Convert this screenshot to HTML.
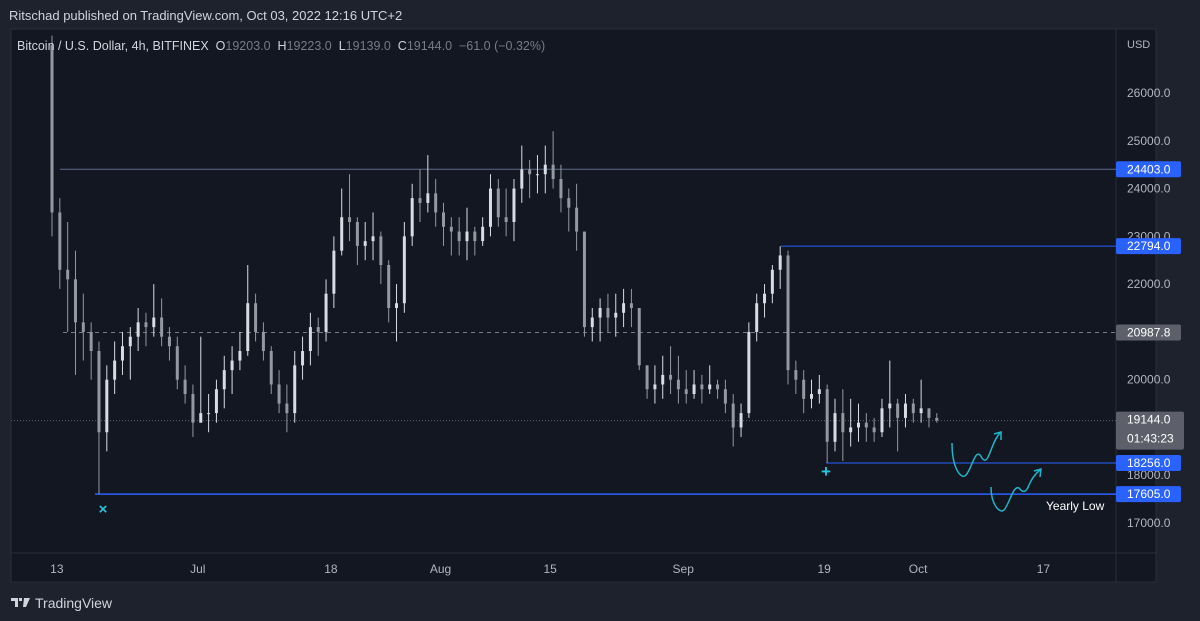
<!DOCTYPE html>
<html><head><meta charset="utf-8"><style>
html,body{margin:0;padding:0;background:#1e222d;width:1200px;height:621px;overflow:hidden;font-family:"Liberation Sans",sans-serif}
svg{display:block}
</style></head><body>
<svg id="chart" width="1200" height="621" xmlns="http://www.w3.org/2000/svg">
<rect x="0" y="0" width="1200" height="621" fill="#1e222d"/>
<text x="9" y="20" fill="#d1d4dc" font-size="13">Ritschad published on TradingView.com, Oct 03, 2022 12:16 UTC+2</text>
<rect x="11" y="29" width="1145" height="553" fill="#131722" stroke="#2a2e39"/>
<line x1="1116" y1="29" x2="1116" y2="582" stroke="#2a2e39"/>
<line x1="11" y1="553" x2="1156" y2="553" stroke="#2a2e39"/>
<g id="levels"></g>
<g id="candles"></g>
<g id="labels"></g>
<text x="17" y="50" fill="#d1d4dc" font-size="12.5" xml:space="preserve">Bitcoin / U.S. Dollar, 4h, BITFINEX  O<tspan fill="#787b86">19203.0</tspan>  H<tspan fill="#787b86">19223.0</tspan>  L<tspan fill="#787b86">19139.0</tspan>  C<tspan fill="#787b86">19144.0  −61.0 (−0.32%)</tspan></text>
<text x="1127" y="48" fill="#b2b5be" font-size="11">USD</text>
<g fill="none" stroke="#1fb4c8" stroke-width="1.5">
<path d="M952,443 C952,470 962,480 966,475 C972,468 975,450 980,455 C984,462 986,462 989,455 C992,448 995,438 1000,433 M994,434 L1001,432 L1001,440"/>
<path d="M991,487 C991,505 1000,514 1004,510 C1010,503 1013,485 1019,488 C1023,493 1026,493 1029,485 C1032,478 1035,474 1040,470 M1034,471 L1041,469 L1040,477"/>
</g>
<text x="103" y="514" fill="#26c6da" font-size="15" font-weight="bold" text-anchor="middle">×</text>
<text x="826" y="477" fill="#26c6da" font-size="17" font-weight="bold" text-anchor="middle">+</text>
<text x="1046" y="510" fill="#ffffff" font-size="12">Yearly Low</text>
<g fill="#d1d4dc">
<path d="M11,598 h7 v9 h-3 v-6 h-4z M19,598 h3 v3 h-3z M24,598 h6 l-4,9 h-3z"/>
<text x="35" y="608" font-size="14">TradingView</text>
</g>
</svg>
<script>
const dayLabels=["Jun 12"];
const highs=[27200,23800,23300,22700,21800,21200,20800,20300,20800,21000,21100,21500,21400,22000,21700,21100,20900,20300,19900,20900,19700,20000,20500,20700,21000,22400,21800,21200,20700,20200,19900,20600,20900,21400,21300,22100,23000,24000,24300,23400,23300,23500,23100,22500,22000,23300,24100,24400,24700,24200,23700,23400,23400,23600,23200,23400,24300,24200,24000,24200,24900,24600,24700,24900,25200,24500,24000,24100,22800,21500,21700,21800,21800,21900,21900,21500,20300,20300,20500,20700,20500,20200,20200,20100,20300,20000,20000,19700,19500,21200,21800,22000,22400,22794,22700,20400,20200,20000,20100,19900,19600,19800,19600,19500,19300,19200,19600,20400,19600,19700,19600,20000,19400,19300];
const lows=[23000,21900,21000,20100,20400,20000,17605,18500,19700,20100,20000,20600,20700,20900,20700,20400,19800,19500,18800,19100,18900,19100,19400,19700,20200,20500,20800,20400,19700,19300,18900,19100,20000,20300,20500,20800,21500,22600,22900,22400,22500,22500,22000,21200,20800,21400,22800,23300,23500,23200,22800,22600,22600,22500,22600,22800,23000,23200,23000,22900,23700,23800,23900,23900,24000,23500,23100,22700,20900,20800,20800,21000,20900,21100,21100,20200,19600,19500,19600,19700,19500,19500,19600,19500,19700,19600,19300,18600,18800,19200,20800,21300,21600,21900,19900,19700,19300,19400,19500,18256,18500,18300,18600,18700,18700,18700,18800,19000,18500,19000,19100,19100,19000,19100];
const closes=[23500,22300,22100,21200,21000,20600,18900,20000,20400,20700,20900,21200,21100,21300,20900,20700,20000,19700,19100,19300,19300,19800,20200,20400,20600,21600,21000,20600,19900,19500,19300,20300,20600,21100,21000,21800,22700,23400,23300,22800,22900,23000,22400,21500,21600,23000,23800,23700,23900,23500,23200,23100,22900,23100,22900,23200,24000,23400,23300,24000,24400,24300,24300,24500,24200,23800,23600,23100,21100,21300,21500,21300,21400,21600,21500,20300,19800,19900,20100,20000,19800,19700,19900,19800,19900,19800,19500,19000,19300,21000,21600,21800,22300,22600,20200,20000,19600,19700,19800,18700,19300,18900,19000,19100,19000,18900,19400,19500,19200,19500,19300,19400,19200,19144];
const priceTicks=[26000,25000,24000,23000,22000,20000,18000,17000];
const timeTicks=["13","Jul","18","Aug","15","Sep","19","Oct","17"];
const timeTickDays=[1,19,36,50,64,81,99,111,127];
const levelPrices=[24403,22794,20987.8,19144,18256,17605];
const NS="http://www.w3.org/2000/svg";
function yScale(p){return 93+(26000-p)*0.04778;}
function xScale(i){return 52+i*7.83;}
function mk(tag,attrs,parent){const e=document.createElementNS(NS,tag);for(const k in attrs)e.setAttribute(k,attrs[k]);parent.appendChild(e);return e;}
const cg=document.getElementById('candles');
for(let i=0;i<closes.length;i++){
  const o=i?closes[i-1]:highs[0]-200, c=closes[i], x=xScale(i);
  const col=c>=o?'#d8dbe3':'#9598a1';
  const w=mk('line',{x1:x,x2:x,y1:yScale(highs[i]),y2:yScale(lows[i]),stroke:col,'stroke-width':1},cg);
  
  
  const yt=yScale(Math.max(o,c)), yb=yScale(Math.min(o,c));
  const b=mk('rect',{x:x-1.5,y:yt,width:3,height:Math.max(1,yb-yt),fill:col},cg);
  
  
}
const lg=document.getElementById('levels');
const lvStyle=[{x1:60,stroke:'#5d6a8a',w:1,d:''},{x1:781,stroke:'#2962ff',w:1,d:''},{x1:63,stroke:'#787b86',w:1,d:'4 4'},{x1:11,stroke:'#5d606b',w:1,d:'1 2'},{x1:826,stroke:'#2962ff',w:1,d:''},{x1:95,stroke:'#2962ff',w:1.5,d:''}];
levelPrices.forEach((p,k)=>{
  const s=lvStyle[k];const y=yScale(p);
  const l=mk('line',{x1:s.x1,x2:1116,y1:y,y2:y,stroke:s.stroke,'stroke-width':s.w,'stroke-dasharray':s.d},lg);
  
  
});
const lb=document.getElementById('labels');
priceTicks.forEach(p=>{
  const t=mk('text',{x:1127,y:yScale(p)+4,fill:'#b2b5be','font-size':12},lb);t.textContent=p.toFixed(1);
  
  
});
timeTicks.forEach((s,k)=>{
  const t=mk('text',{x:xScale(timeTickDays[k])-3,y:573,fill:'#b2b5be','font-size':12,'text-anchor':'middle'},lb);t.textContent=s;
  
  
});
levelPrices.forEach((p,k)=>{
  const y=yScale(p);const gray=(k===2||k===3);
  const h=k===3?38:16;const top=k===3?y-9:y-8;
  const r=mk('rect',{x:1116,y:top,width:k===3?68:65,height:h,rx:2,fill:gray?'#5d606b':'#2962ff'},lb);
  
  
  const t=mk('text',{x:1127,y:top+12,fill:'#ffffff','font-size':12},lb);t.textContent=p.toFixed(1);
  
  
  if(k===3){const t2=mk('text',{x:1127,y:top+31,fill:'#ffffff','font-size':12},lb);t2.textContent='01:43:23';
  
  }
});
</script>
</body></html>
